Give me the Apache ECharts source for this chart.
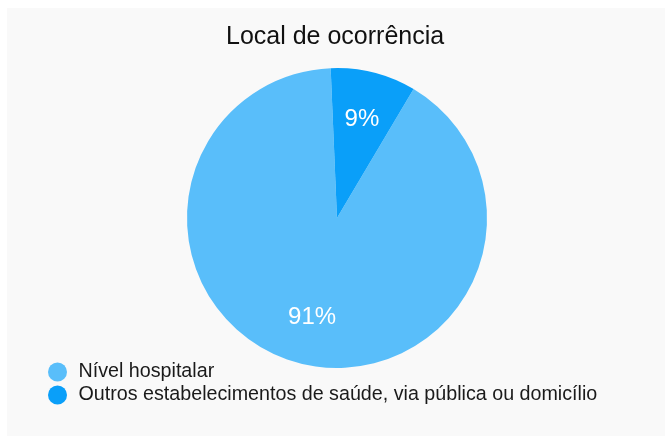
<!DOCTYPE html>
<html>
<head>
<meta charset="utf-8">
<script src="https://cdn.jsdelivr.net/npm/echarts@6/dist/echarts.min.js"></script>
<style>
	html, body { margin: 0; padding: 0; background: #ffffff; }
	.card { position: absolute; left: 7px; top: 8px; width: 658px; height: 428px; background: #f9f9f9; }
	#chart { position: absolute; left: 0; top: 0; width: 665px; height: 436px; }
</style>
</head>
<body>
<div class="card"></div>
<div id="chart"></div>
<script>
	// dados do gráfico
	var titulo = 'Local de ocorrência';
	var categorias = ['Nível hospitalar', 'Outros estabelecimentos de saúde, via pública ou domicílio'];
	var valores = [90.8, 9.2];
	var cores = ['#59befa', '#0a9ff9'];

	var dados = categorias.map(function (nome, i) {
		return { name: nome, value: valores[i], itemStyle: { color: cores[i] } };
	});

	var fonte = '"Liberation Sans", Arial, Helvetica, sans-serif';
	var myChart = echarts.init(document.getElementById('chart'));
	var option = {
		animation: false,
		title: {
			text: titulo,
			left: 221,
			top: 20,
			textStyle: { fontSize: 25, fontWeight: 'normal', color: '#111', fontFamily: fonte }
		},
		legend: {
			orient: 'vertical',
			left: 43,
			top: 357,
			icon: 'circle',
			itemWidth: 32,
			itemHeight: 19,
			itemGap: 3,
			data: categorias,
			textStyle: { fontSize: 19.7, color: '#1a1a1a', fontFamily: fonte }
		},
		series: [
			{
				// fatias
				type: 'pie',
				center: [337, 218],
				radius: [0, 150],
				startAngle: 59.3,
				clockwise: true,
				silent: true,
				label: { show: false },
				labelLine: { show: false },
				data: dados
			},
			{
				// rótulos de percentagem
				type: 'pie',
				center: [337, 218],
				radius: [48, 150],
				startAngle: 59.3,
				clockwise: true,
				silent: true,
				legendHoverLink: false,
				itemStyle: { color: 'rgba(0,0,0,0)' },
				label: {
					show: true,
					position: 'inside',
					color: '#ffffff',
					fontSize: 24,
					fontFamily: fonte,
					formatter: function (p) { return Math.round(p.percent) + '%'; }
				},
				labelLine: { show: false },
				data: categorias.map(function (nome, i) {
					return { name: nome + ' ', value: valores[i] };
				})
			}
		]
	};
	myChart.setOption(option);
</script>
</body>
</html>
